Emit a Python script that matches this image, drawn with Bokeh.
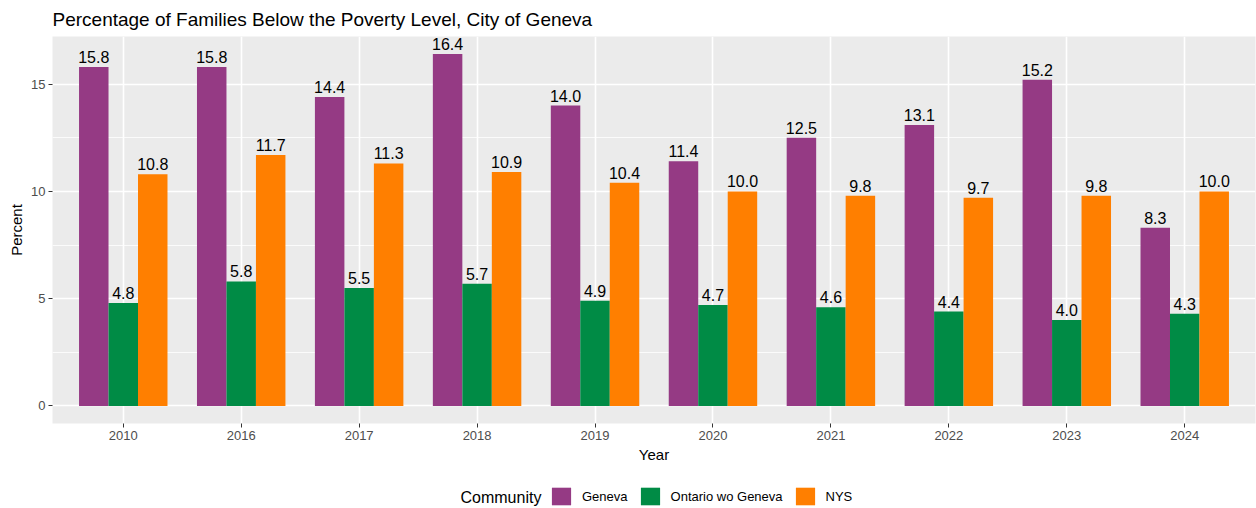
from bokeh.plotting import figure
from bokeh.layouts import column
from bokeh.models import FactorRange, Range1d, FixedTicker, Legend, LegendItem, ColumnDataSource, Label
from bokeh.transform import dodge
from bokeh.core.properties import value
from bokeh.embed import file_html
from bokeh.resources import INLINE

years = ["2010", "2016", "2017", "2018", "2019", "2020", "2021", "2022", "2023", "2024"]
geneva = [15.8, 15.8, 14.4, 16.4, 14.0, 11.4, 12.5, 13.1, 15.2, 8.3]
ontario = [4.8, 5.8, 5.5, 5.7, 4.9, 4.7, 4.6, 4.4, 4.0, 4.3]
nys = [10.8, 11.7, 11.3, 10.9, 10.4, 10.0, 9.8, 9.7, 9.8, 10.0]
series = ["Geneva", "Ontario wo Geneva", "NYS"]
colors = ["#953A84", "#008B45", "#FF7F00"]
y_ticks = [0, 5, 10, 15]
y_minor = [2.5, 7.5, 12.5]

FONT = "Liberation Sans"
W = 1256

src = ColumnDataSource(dict(
    year=years,
    geneva=geneva, ontario=ontario, nys=nys,
    geneva_lbl=[f"{v:.1f}" for v in geneva],
    ontario_lbl=[f"{v:.1f}" for v in ontario],
    nys_lbl=[f"{v:.1f}" for v in nys],
))

p = figure(
    x_range=FactorRange(factors=years, range_padding=0.1, range_padding_units="absolute"),
    y_range=Range1d(-0.82, 17.22),
    width=W, height=470,
    output_backend="svg", toolbar_location=None,
    min_border_left=52, min_border_right=1, min_border_top=34, min_border_bottom=47,
)
p.background_fill_color = "#EBEBEB"
p.border_fill_color = "white"
p.outline_line_color = None

p.title.text = "Percentage of Families Below the Poverty Level, City of Geneva"
p.title.text_font_size = "19px"
p.title.text_font_style = "normal"
p.title.text_font = FONT
p.title.text_color = "black"
p.title.align = "left"
p.title.offset = 0
p.title.standoff = 13

p.xgrid.grid_line_color = "white"
p.xgrid.grid_line_width = 1.6
p.ygrid.grid_line_color = "white"
p.ygrid.grid_line_width = 1.6
p.ygrid.minor_grid_line_color = "white"
p.ygrid.minor_grid_line_width = 0.8

cols = ["geneva", "ontario", "nys"]
offsets = [-0.25, 0.0, 0.25]
for name, col, off, c in zip(series, cols, offsets, colors):
    p.vbar(x=dodge("year", off, range=p.x_range), top=col, width=0.25, source=src,
           fill_color=c, line_color=None)
    p.text(x=dodge("year", off, range=p.x_range), y=col, text=col + "_lbl", source=src,
           text_align="center", text_baseline="bottom", y_offset=-4,
           text_font_size="16px", text_font=value(FONT), text_color="black")

p.yaxis.ticker = FixedTicker(ticks=y_ticks, minor_ticks=y_minor)
for ax in (p.xaxis[0], p.yaxis[0]):
    ax.axis_line_color = None
    ax.major_tick_line_color = "#333333"
    ax.major_tick_out = 4
    ax.major_tick_in = 0
    ax.minor_tick_line_color = None
    ax.major_label_text_font_size = "13px"
    ax.major_label_text_color = "#4D4D4D"
    ax.major_label_text_font = FONT
    ax.major_label_standoff = 3
    ax.axis_label_text_font_size = "15px"
    ax.axis_label_text_font_style = "normal"
    ax.axis_label_text_color = "black"
    ax.axis_label_text_font = FONT
p.xaxis.axis_label = "Year"
p.xaxis.axis_label_standoff = 3
p.yaxis.axis_label = "Percent"
p.yaxis.axis_label_standoff = 3

# legend strip below the chart
p2 = figure(width=W, height=38, x_range=FactorRange(factors=years), y_range=Range1d(100, 101),
            output_backend="svg", toolbar_location=None,
            min_border_left=0, min_border_right=0, min_border_top=0, min_border_bottom=0)
p2.axis.visible = False
p2.grid.visible = False
p2.outline_line_color = None
p2.background_fill_color = "white"
p2.border_fill_color = "white"
items = []
for name, col, c in zip(series, cols, colors):
    r = p2.vbar(x="year", top=col, width=0.25, source=src, fill_color=c, line_color=None)
    items.append(LegendItem(label=name, renderers=[r]))
legend = Legend(items=items, location=(497, 1), orientation="horizontal",
                glyph_width=24, glyph_height=22, label_height=22, label_standoff=9, spacing=10,
                padding=0, margin=0, border_line_color=None, background_fill_alpha=0,
                label_text_font_size="13px", label_text_font=FONT, label_text_color="black")
p2.add_layout(legend)
p2.add_layout(Label(x=408, y=11, x_units="screen", y_units="screen", text="Community",
                    text_font_size="16px", text_font=FONT, text_color="black",
                    text_baseline="middle"))

layout = column(p, p2, spacing=0)
open("out.html", "w").write(file_html(layout, INLINE))
